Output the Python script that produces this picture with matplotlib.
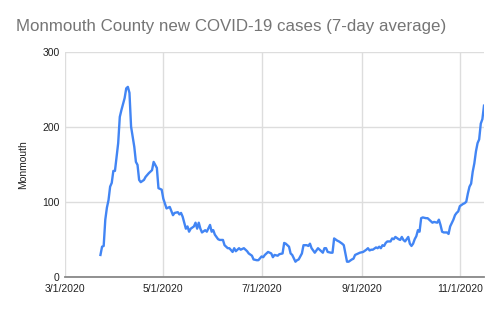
import numpy as np
import pandas as pd
import matplotlib
matplotlib.use("Agg")
import matplotlib.pyplot as plt

plt.rcParams['font.family'] = ['Liberation Sans', 'DejaVu Sans']

# days since 3/1/2020 and 7-day average cases
days = [22, 23, 24, 25, 26, 27, 28, 29, 30, 31, 33, 34, 35, 37, 38, 39, 40, 41,
        43, 44, 45, 46, 47, 49, 50, 52, 54, 55, 57, 58, 60, 61, 63, 64, 65, 67,
        68, 70, 71, 72, 73, 75, 76, 77, 78, 80, 81, 82, 83, 84, 85, 87, 88, 90,
        91, 92, 93, 95, 96, 98, 99, 101, 102, 104, 105, 106, 108, 109, 111, 113,
        114, 116, 117, 119, 120, 122, 123, 124, 126, 128, 129, 130, 132, 133,
        135, 136, 137, 139, 140, 141, 143, 144, 145, 147, 148, 150, 151, 152,
        153, 155, 156, 157, 158, 160, 161, 162, 163, 165, 166, 167, 169, 170,
        172, 173, 175, 176, 178, 179, 180, 182, 183, 185, 187, 188, 189, 190,
        191, 193, 194, 195, 196, 197, 198, 199, 200, 202, 203, 204, 205, 207,
        208, 209, 210, 211, 213, 214, 215, 216, 217, 218, 219, 220, 221, 222,
        224, 225, 226, 228, 229, 231, 232, 233, 234, 235, 237, 238, 239, 241,
        242, 243, 244, 245, 247, 248, 249, 250, 251, 252, 253, 254, 255, 256,
        257, 258, 259, 260]
cases = [29, 40, 41, 76, 92, 102, 120, 125, 141, 141, 178, 213, 222, 238, 251,
         253, 245, 200, 173, 153, 149, 129, 126, 129, 133, 138, 142, 153, 145,
         118, 116, 104, 91, 92, 93, 82, 85, 86, 83, 85, 80, 64, 67, 60, 64, 67,
         72, 64, 72, 64, 59, 62, 60, 69, 60, 62, 56, 50, 49, 49, 42, 38, 38, 33,
         38, 34, 38, 36, 38, 34, 31, 28, 23, 22, 22, 27, 26, 29, 33, 31, 26, 29,
         28, 30, 31, 45, 44, 40, 31, 29, 20, 22, 23, 31, 42, 42, 41, 44, 38, 32,
         35, 38, 36, 32, 38, 38, 33, 32, 32, 51, 48, 47, 44, 42, 20, 20, 23, 24,
         29, 31, 32, 33, 36, 38, 35, 36, 36, 39, 38, 40, 38, 42, 41, 45, 47, 47,
         51, 50, 53, 50, 49, 53, 49, 47, 53, 44, 41, 44, 50, 54, 62, 60, 78, 79,
         78, 78, 76, 72, 73, 72, 76, 69, 60, 59, 59, 57, 67, 76, 82, 85, 87, 94,
         97, 98, 100, 111, 120, 124, 140, 151, 167, 178, 183, 204, 210, 228]

start = pd.Timestamp('2020-03-01')
end = pd.Timestamp('2020-11-16')
dates = start + pd.to_timedelta(days, unit='D')

tick_dates = pd.to_datetime(['2020-03-01', '2020-05-01', '2020-07-01',
                             '2020-09-01', '2020-11-01'])
tick_labels = ['3/1/2020', '5/1/2020', '7/1/2020', '9/1/2020', '11/1/2020']
y_ticks = [0, 100, 200, 300]

fig = plt.figure(figsize=(5, 3.09), dpi=100)
ax = fig.add_axes([0.13, 0.1045, 0.838, 0.7285])

ax.plot(dates, cases, color='#4285F4', lw=1.7, solid_joinstyle='round')

ax.set_xlim(start, end)
ax.set_ylim(0, 300)
ax.set_xticks(tick_dates)
ax.set_xticklabels(tick_labels)
ax.set_yticks(y_ticks)
ax.grid(True, color='#dddddd', lw=1)
ax.set_axisbelow(True)
ax.tick_params(length=0, labelsize=7.5, colors='#222222', pad=4)
ax.tick_params(axis='x', pad=5)
for s in ['top', 'right', 'left']:
    ax.spines[s].set_visible(False)
ax.spines['bottom'].set_color('#888888')
ax.spines['bottom'].set_linewidth(1.3)

ax.set_ylabel('Monmouth', fontsize=7.5, color='#222222', labelpad=10)
fig.text(0.032, 0.915, 'Monmouth County new COVID-19 cases (7-day average)',
         fontsize=12.2, color='#757575', va='center', ha='left')

fig.savefig('out.png', dpi=100)
